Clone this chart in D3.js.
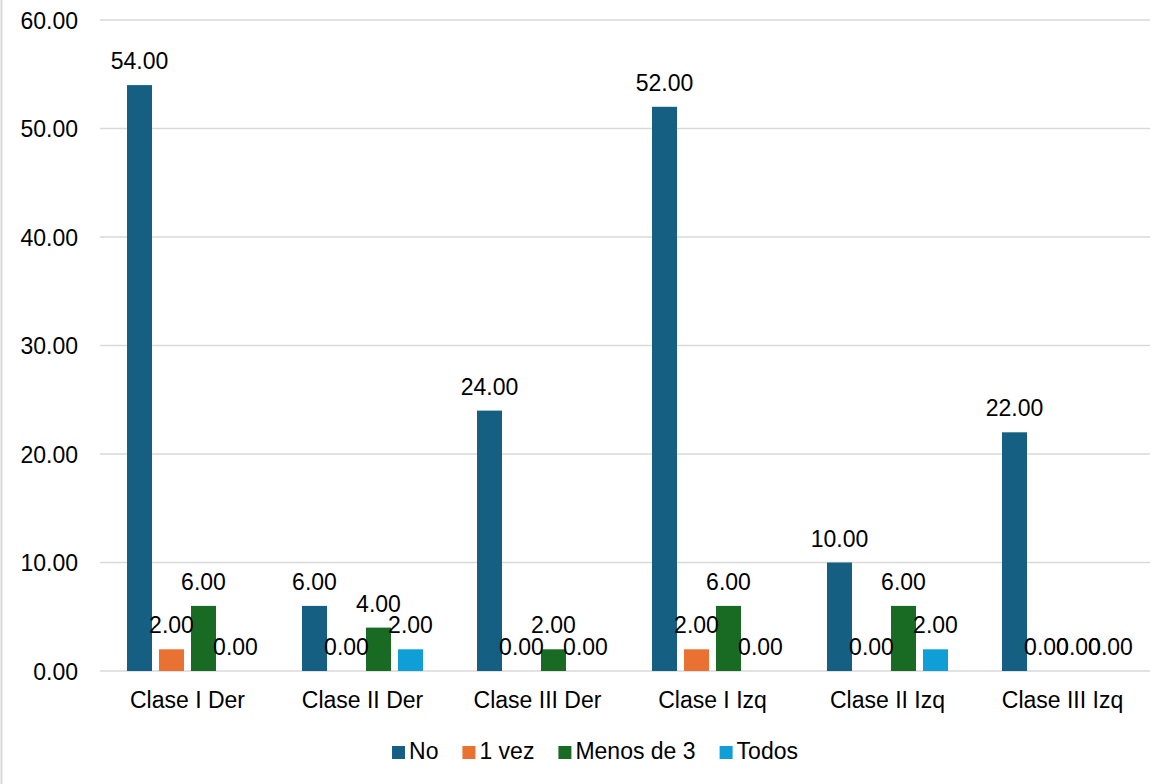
<!DOCTYPE html>
<html>
<head>
<meta charset="utf-8">
<script src="https://cdn.jsdelivr.net/npm/d3@7"></script>
<style>
  html, body { margin: 0; padding: 0; background: #fff; }
  svg { display: block; }
  text { font-family: "Liberation Sans", Arial, sans-serif; fill: #000; }
</style>
</head>
<body>
<svg id="chart" width="1167" height="784"></svg>
<script>
const categories = ["Clase I Der", "Clase II Der", "Clase III Der", "Clase I Izq", "Clase II Izq", "Clase III Izq"];
const seriesNames = ["No", "1 vez", "Menos de 3", "Todos"];
const seriesColors = ["#156082", "#E97132", "#196B24", "#0F9ED5"];
const valuesNo = [54, 6, 24, 52, 10, 22];
const values1vez = [2, 0, 0, 2, 0, 0];
const valuesMenos3 = [6, 4, 2, 6, 6, 0];
const valuesTodos = [0, 2, 0, 0, 2, 0];
const yTicks = [0, 10, 20, 30, 40, 50, 60];

const seriesValues = [valuesNo, values1vez, valuesMenos3, valuesTodos];
const data = categories.map((c, i) => ({
  cat: c,
  vals: seriesNames.map((s, j) => ({ s, j, v: seriesValues[j][i] }))
}));

const svg = d3.select("#chart");
const W = 1167, H = 784;
const fs = 23;

// chart border (left edge visible)
svg.append("line").attr("x1", 1.5).attr("x2", 1.5).attr("y1", 0).attr("y2", H)
  .attr("stroke", "#d9d9d9").attr("stroke-width", 2);

const x0 = d3.scaleBand().domain(categories).range([100, 1150]).paddingInner(0).paddingOuter(0);
const x1 = d3.scaleBand().domain(seriesNames).range([0, x0.bandwidth()])
  .paddingInner(7 / 32).paddingOuter(0.844);
const y = d3.scaleLinear().domain([0, 60]).range([671, 20]);

// gridlines
svg.append("g").selectAll("line").data(yTicks).join("line")
  .attr("x1", 100).attr("x2", 1150)
  .attr("y1", d => y(d)).attr("y2", d => y(d))
  .attr("stroke", "#d9d9d9").attr("stroke-width", 1.5);

// y axis labels
const yAxis = d3.axisLeft(y).tickValues(yTicks).tickFormat(d3.format(".2f")).tickSize(0).tickPadding(0);
const gy = svg.append("g").attr("transform", "translate(78,0)").call(yAxis);
gy.select(".domain").remove();
gy.selectAll("text").attr("font-size", fs).attr("fill", "#000")
  .attr("font-family", "Liberation Sans, Arial, sans-serif").attr("dy", "0.35em");

// bars
const groups = svg.append("g").selectAll("g").data(data).join("g")
  .attr("transform", d => `translate(${x0(d.cat)},0)`);

groups.selectAll("rect").data(d => d.vals).join("rect")
  .attr("x", d => x1(d.s))
  .attr("width", x1.bandwidth())
  .attr("y", d => y(d.v))
  .attr("height", d => y(0) - y(d.v))
  .attr("fill", d => seriesColors[d.j]);

groups.selectAll("text").data(d => d.vals).join("text")
  .attr("x", d => x1(d.s) + x1.bandwidth() / 2)
  .attr("y", d => y(d.v) - 16)
  .attr("text-anchor", "middle")
  .attr("font-size", fs)
  .text(d => d3.format(".2f")(d.v));

// x axis labels
const xAxis = d3.axisBottom(x0).tickSize(0).tickPadding(0);
const gx = svg.append("g").attr("transform", "translate(0,708)").call(xAxis);
gx.select(".domain").remove();
gx.selectAll("text").attr("font-size", fs).attr("fill", "#000")
  .attr("font-family", "Liberation Sans, Arial, sans-serif").attr("dy", 0);

// legend
const leg = svg.append("g");
const items = leg.selectAll("g").data(seriesNames).join("g");
items.append("rect").attr("width", 13).attr("height", 13).attr("y", 746)
  .attr("fill", (d, i) => seriesColors[i]);
items.append("text").attr("x", 17).attr("y", 759).attr("font-size", fs).text(d => d);
let widths = [];
items.each(function() { widths.push(this.querySelector("text").getComputedTextLength() + 17); });
const gap = 24;
const total = d3.sum(widths) + gap * (widths.length - 1);
let cx = 595 - total / 2;
items.attr("transform", (d, i) => {
  const t = `translate(${cx},0)`;
  cx += widths[i] + gap;
  return t;
});
</script>
</body>
</html>
